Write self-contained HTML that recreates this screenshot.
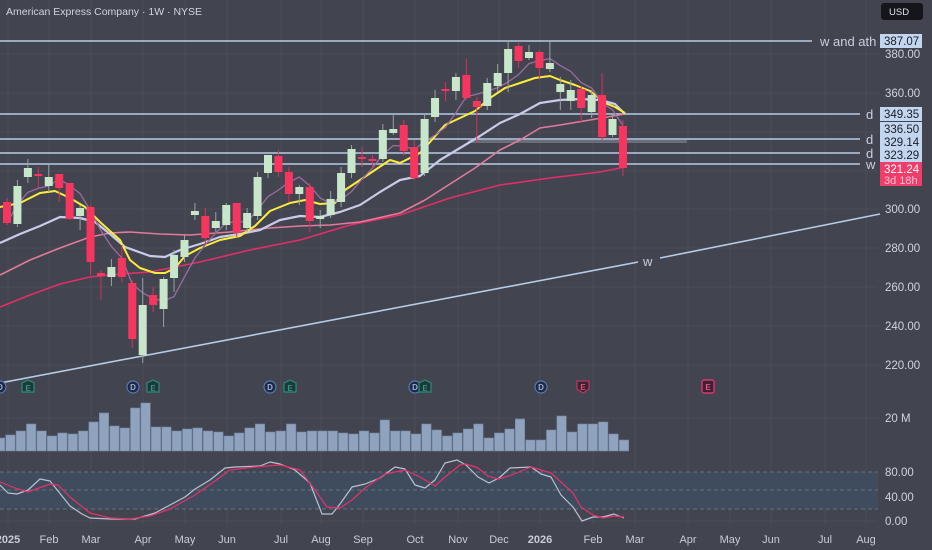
<!DOCTYPE html>
<html><head><meta charset="utf-8"><style>
html,body{margin:0;padding:0;background:#42444f;}
svg{display:block;font-family:"Liberation Sans",sans-serif;}
</style></head><body>
<svg id="s" width="932" height="550" viewBox="0 0 932 550" xmlns="http://www.w3.org/2000/svg">
<rect width="932" height="550" fill="#42444f"/>
<g id="grid" stroke="#4b4d58" stroke-width="1"></g>
<!-- stoch band -->
<rect x="0" y="472" width="878" height="37" fill="#3e4c5e"/>
<line x1="0" y1="472" x2="878" y2="472" stroke="#6a7080" stroke-dasharray="4,3"/>
<line x1="0" y1="490" x2="878" y2="490" stroke="#6a7080" stroke-dasharray="4,3"/>
<line x1="0" y1="509" x2="878" y2="509" stroke="#6a7080" stroke-dasharray="4,3"/>
<g id="vol"></g>
<!-- horizontal levels -->
<g stroke="#b6cbe6" stroke-width="1.6">
<line x1="0" y1="41" x2="812" y2="41"/>
<line x1="0" y1="114" x2="860" y2="114"/>
<line x1="0" y1="139" x2="860" y2="139"/>
<line x1="0" y1="153" x2="860" y2="153"/>
<line x1="0" y1="164" x2="860" y2="164"/>
<line x1="0" y1="383" x2="638" y2="262"/>
<line x1="660" y1="258" x2="880" y2="214"/>
</g>
<rect x="468" y="140" width="219" height="3" fill="#6b6e78"/>
<g fill="#c9d0dc" font-size="13">
<text x="820" y="46">w and ath</text>
<text x="866" y="119">d</text>
<text x="866" y="144">d</text>
<text x="866" y="158">d</text>
<text x="866" y="169">w</text>
<text x="643" y="266">w</text>
</g>
<g id="ma" fill="none"></g>
<g id="candles"></g>
<g id="stoch" fill="none"></g>
<!-- events -->
<g font-size="8" font-weight="bold" text-anchor="middle">
<g fill="#1e2a44" stroke="#5a78b0" stroke-width="1.2">
<circle cx="0" cy="387" r="6"/><circle cx="133" cy="387" r="6"/><circle cx="270" cy="387" r="6"/><circle cx="415" cy="387" r="6"/><circle cx="541" cy="387" r="6"/>
</g>
<g fill="#9ab0d8"><text x="0" y="390">D</text><text x="133" y="390">D</text><text x="270" y="390">D</text><text x="415" y="390">D</text><text x="541" y="390">D</text></g>
<g fill="#1c3a3a" stroke="#2e8a7c" stroke-width="1.2">
<path d="M22,383 l6,-3 l6,3 v9 h-12z"/><path d="M147,383 l6,-3 l6,3 v9 h-12z"/><path d="M284,383 l6,-3 l6,3 v9 h-12z"/><path d="M419,383 l6,-3 l6,3 v9 h-12z"/>
</g>
<g fill="#3b8f84"><text x="28" y="391">E</text><text x="153" y="391">E</text><text x="290" y="391">E</text><text x="425" y="391">E</text></g>
<path d="M577,381 h12 v8 l-6,4 l-6,-4z" fill="#3a2333" stroke="#c0335f" stroke-width="1.2"/>
<text x="583" y="390" fill="#e0507a">E</text>
<rect x="702" y="380" width="12" height="13" rx="2" fill="#3a2333" stroke="#e0336e" stroke-width="1.4"/>
<text x="708" y="390" fill="#f0508a">E</text>
</g>
<!-- right axis -->
<g fill="#d1d4dc" font-size="11.5">
<text x="885" y="58">380.00</text>
<text x="885" y="97">360.00</text>
<text x="885" y="213">300.00</text>
<text x="885" y="252">280.00</text>
<text x="885" y="291">260.00</text>
<text x="885" y="330">240.00</text>
<text x="885" y="369">220.00</text>
<text x="885" y="422">20 M</text>
<text x="885" y="476">80.00</text>
<text x="885" y="501">40.00</text>
<text x="885" y="525">0.00</text>
</g>
<rect x="881" y="3" width="42" height="17" rx="3" fill="#15161b"/>
<text x="889" y="15" fill="#e0e3ea" font-size="9.5">USD</text>
<rect x="880" y="34" width="42" height="14" fill="#c3d6f0"/>
<text x="884" y="45" fill="#1a1c24" font-size="11.5">387.07</text>
<rect x="880" y="107" width="42" height="14" fill="#c3d6f0"/>
<text x="884" y="118" fill="#1a1c24" font-size="11.5">349.35</text>
<rect x="880" y="122" width="42" height="40" fill="#c3d6f0"/>
<text x="884" y="133" fill="#1a1c24" font-size="11.5">336.50</text>
<text x="884" y="146" fill="#1a1c24" font-size="11.5">329.14</text>
<text x="884" y="159" fill="#1a1c24" font-size="11.5">323.29</text>
<rect x="880" y="162" width="42" height="24" fill="#f23d6b"/>
<text x="884" y="173" fill="#ffffff" font-size="11.5">321.24</text>
<text x="884" y="184" fill="#ffc2d0" font-size="11">3d 18h</text>
<text x="6" y="15" fill="#d1d4dc" font-size="10.5">American Express Company · 1W · NYSE</text>
<g id="taxis" fill="#c9ccd4" font-size="11" text-anchor="middle"></g>
</svg>
<script>
var NS="http://www.w3.org/2000/svg";
function el(p,t,a){var e=document.createElementNS(NS,t);for(var k in a)e.setAttribute(k,a[k]);p.appendChild(e);return e;}
var months=[[8,"2025",1],[49,"Feb"],[91,"Mar"],[143,"Apr"],[185,"May"],[227,"Jun"],[281,"Jul"],[321,"Aug"],[363,"Sep"],[415,"Oct"],[458,"Nov"],[499,"Dec"],[540,"2026",1],[593,"Feb"],[635,"Mar"],[688,"Apr"],[730,"May"],[771,"Jun"],[825,"Jul"],[866,"Aug"]];
var g=document.getElementById("grid");
months.forEach(function(m){el(g,"line",{x1:m[0],y1:0,x2:m[0],y2:525});});
[54,93,132,171,209,248,287,326,365,418,521].forEach(function(y){el(g,"line",{x1:0,y1:y,x2:878,y2:y});});
var ta=document.getElementById("taxis");
months.forEach(function(m){var t=el(ta,"text",{x:m[0],y:543});if(m[2])t.setAttribute("font-weight","bold");t.textContent=m[1];});
var C=[[202,223,198,225],[224,186,180,227],[177,168,159,183],[174,176,167,188],[186,177,165,192],[174,188,174,202],[183,219,183,220],[216,208,205,230],[207,262,205,275],[273,276,270,300],[277,267,259,286],[258,277,245,282],[283,339,280,348],[355,305,278,363],[295,305,287,312],[309,279,277,327],[278,255,250,292],[257,240,235,262],[215,211,203,220],[216,238,208,244],[228,221,212,232],[225,205,203,230],[203,233,203,237],[228,213,208,232],[216,177,172,220],[173,155,155,178],[156,172,150,177],[172,194,167,202],[194,187,185,205],[187,221,183,232],[219,216,210,228],[215,199,191,218],[202,173,167,207],[173,149,145,178],[157,159,147,167],[159,161,155,168],[159,130,124,162],[133,129,114,135],[125,151,120,156],[147,178,140,180],[173,119,115,176],[117,98,90,122],[89,91,82,101],[91,77,73,100],[75,98,59,100],[101,107,97,143],[106,83,78,110],[86,73,64,92],[73,49,40,92],[46,61,43,68],[58,52,45,60],[52,68,50,78],[69,63,42,72],[92,84,77,110],[101,90,80,110],[89,108,86,123],[112,95,90,118],[95,137,73,140],[135,119,113,137],[126,168,120,176]];
function cx(i){return 7+i*10.44;}
var ma=document.getElementById("ma");
function pl(p,pts,col,w){el(p,"polyline",{points:pts.map(function(q){return q.join(",");}).join(" "),stroke:col,"stroke-width":w,"stroke-linejoin":"round",fill:"none"});}
pl(ma,[[0,307],[30,295],[60,284],[90,277],[120,274],[150,272],[170,268],[200,262],[250,250],[300,240],[350,225],[400,215],[450,198],[500,185],[550,178],[600,172],[625,167]],"#e52e68",1.6);
pl(ma,[[0,275],[30,260],[60,248],[90,237],[110,233],[130,232],[160,234],[190,235],[230,232],[270,228],[300,226],[330,225],[360,222],[400,213],[425,200],[450,184],[475,168],[500,150],[520,140],[540,128],[560,125],[590,120],[625,114]],"#e27a9c",1.6);
pl(ma,[[0,243],[20,234],[40,226],[60,217],[80,218],[95,222],[110,234],[125,247],[150,256],[165,257],[180,250],[200,244],[220,237],[240,234],[260,230],[280,220],[300,216],[320,217],[340,212],[360,205],[380,192],[400,180],[420,176],[440,160],[460,148],[480,136],[500,123],[520,114],[540,103],[560,100],[580,99],[600,100],[615,104],[625,114]],"#c8cce8",2.2);
pl(ma,[[0,207],[20,203],[40,193],[55,191],[70,198],[85,207],[100,222],[120,240],[130,260],[140,268],[155,273],[165,273],[175,268],[185,256],[200,248],[220,240],[240,236],[255,226],[270,211],[290,203],[305,200],[320,204],[335,203],[345,190],[360,180],[375,170],[390,160],[400,163],[420,153],[430,142],[445,125],[460,118],[475,111],[490,98],[505,88],[520,83],[535,78],[550,76],[560,80],[575,85],[590,91],[605,103],[615,107],[625,113]],"#ffeb3b",2);
var pp=[];for(var i=0;i<C.length;i++){var s=0,n=0;for(var j=Math.max(0,i-4);j<=i;j++){s+=C[j][1];n++;}pp.push([cx(i),s/n]);}
pl(ma,pp,"#9a6d9e",1.3);
var cg=document.getElementById("candles");
C.forEach(function(c,i){var x=cx(i),up=c[1]<c[0];var col=up?"#c8e6c9":"#f7365f";var wc=up?"#9aa49c":"#d8325c";
el(cg,"line",{x1:x,y1:c[2],x2:x,y2:c[3],stroke:wc,"stroke-width":1});
var t=Math.min(c[0],c[1]),h=Math.max(2,Math.abs(c[1]-c[0]));el(cg,"rect",{x:x-4,y:t,width:8,height:h,fill:col});});
var V=[13,16,20,27,20,15,18,17,20,29,38,25,23,43,48,24,24,20,22,23,20,19,15,18,23,27,19,20,27,19,20,20,20,18,17,20,18,31,20,20,17,27,21,15,18,22,27,13,18,22,32,11,11,21,35,19,27,27,29,17,11];
var vg=document.getElementById("vol");
V.forEach(function(h,i){var x=624-(60-i)*10.4;el(vg,"rect",{x:x-4.7,y:451-h,width:9.4,height:h,fill:"#8fa3bf",stroke:"#7488a6","stroke-width":0.6});});
var sg=document.getElementById("stoch");
pl(sg,[[0,485],[8,493],[17,494],[28,490],[40,479],[50,481],[70,506],[82,514],[90,518],[110,519],[135,519],[145,516],[155,513],[170,505],[185,497],[195,489],[210,480],[225,468],[235,467],[260,466],[270,462],[280,464],[295,470],[310,483],[322,514],[332,514],[340,504],[352,487],[365,484],[380,478],[395,467],[405,469],[415,485],[425,488],[435,480],[445,463],[457,460],[466,465],[478,477],[489,483],[499,478],[510,468],[531,467],[541,474],[551,477],[561,495],[573,507],[582,521],[593,517],[603,517],[614,514],[624,518]],"#b8c2d4",1.2);
pl(sg,[[0,482],[15,488],[28,492],[50,484],[58,485],[70,497],[90,513],[110,518],[130,519],[150,516],[170,509],[195,495],[215,481],[230,470],[255,467],[280,465],[300,470],[315,490],[327,507],[340,508],[352,500],[365,488],[385,474],[405,470],[420,477],[435,486],[445,477],[460,465],[466,464],[478,468],[488,476],[498,479],[509,476],[531,467],[551,473],[561,482],[573,493],[581,507],[593,515],[603,518],[614,516],[624,517]],"#e8306a",1.2);
</script>
</body></html>
